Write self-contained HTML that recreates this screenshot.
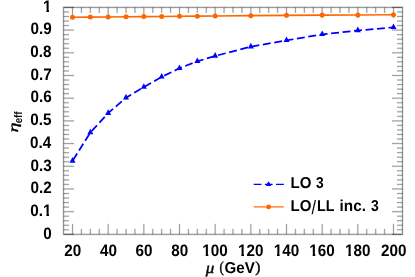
<!DOCTYPE html>
<html><head><meta charset="utf-8"><title>chart</title>
<style>
html,body{margin:0;padding:0;background:#fff;}
svg{display:block;will-change:transform;}
text{text-rendering:geometricPrecision;fill:#000;}
.b{font-family:"Liberation Sans",sans-serif;font-weight:bold;}
.r{font-family:"Liberation Sans",sans-serif;}
.si{font-family:"Liberation Serif",serif;font-style:italic;}
.sbi{font-family:"Liberation Serif",serif;font-style:italic;font-weight:bold;}
.sr{font-family:"Liberation Serif",serif;}
</style>
</head><body>
<svg width="415" height="277" viewBox="0 0 415 277">
<rect width="415" height="277" fill="#fff"/>
<path d="M72.50 234.35 v-10.5 M72.50 7.4 v10.5 M81.42 234.35 v-5.5 M81.42 7.4 v5.5 M90.33 234.35 v-5.5 M90.33 7.4 v5.5 M99.25 234.35 v-5.5 M99.25 7.4 v5.5 M108.17 234.35 v-10.5 M108.17 7.4 v10.5 M117.08 234.35 v-5.5 M117.08 7.4 v5.5 M126.00 234.35 v-5.5 M126.00 7.4 v5.5 M134.92 234.35 v-5.5 M134.92 7.4 v5.5 M143.83 234.35 v-10.5 M143.83 7.4 v10.5 M152.75 234.35 v-5.5 M152.75 7.4 v5.5 M161.67 234.35 v-5.5 M161.67 7.4 v5.5 M170.58 234.35 v-5.5 M170.58 7.4 v5.5 M179.50 234.35 v-10.5 M179.50 7.4 v10.5 M188.42 234.35 v-5.5 M188.42 7.4 v5.5 M197.33 234.35 v-5.5 M197.33 7.4 v5.5 M206.25 234.35 v-5.5 M206.25 7.4 v5.5 M215.17 234.35 v-10.5 M215.17 7.4 v10.5 M224.08 234.35 v-5.5 M224.08 7.4 v5.5 M233.00 234.35 v-5.5 M233.00 7.4 v5.5 M241.92 234.35 v-5.5 M241.92 7.4 v5.5 M250.83 234.35 v-10.5 M250.83 7.4 v10.5 M259.75 234.35 v-5.5 M259.75 7.4 v5.5 M268.67 234.35 v-5.5 M268.67 7.4 v5.5 M277.58 234.35 v-5.5 M277.58 7.4 v5.5 M286.50 234.35 v-10.5 M286.50 7.4 v10.5 M295.42 234.35 v-5.5 M295.42 7.4 v5.5 M304.33 234.35 v-5.5 M304.33 7.4 v5.5 M313.25 234.35 v-5.5 M313.25 7.4 v5.5 M322.17 234.35 v-10.5 M322.17 7.4 v10.5 M331.08 234.35 v-5.5 M331.08 7.4 v5.5 M340.00 234.35 v-5.5 M340.00 7.4 v5.5 M348.92 234.35 v-5.5 M348.92 7.4 v5.5 M357.83 234.35 v-10.5 M357.83 7.4 v10.5 M366.75 234.35 v-5.5 M366.75 7.4 v5.5 M375.67 234.35 v-5.5 M375.67 7.4 v5.5 M384.58 234.35 v-5.5 M384.58 7.4 v5.5 M393.50 234.35 v-10.5 M393.50 7.4 v10.5 M63.55 234.35 h10.5 M402.5 234.35 h-10.5 M63.55 229.81 h5.5 M402.5 229.81 h-5.5 M63.55 225.27 h5.5 M402.5 225.27 h-5.5 M63.55 220.73 h5.5 M402.5 220.73 h-5.5 M63.55 216.19 h5.5 M402.5 216.19 h-5.5 M63.55 211.66 h10.5 M402.5 211.66 h-10.5 M63.55 207.12 h5.5 M402.5 207.12 h-5.5 M63.55 202.58 h5.5 M402.5 202.58 h-5.5 M63.55 198.04 h5.5 M402.5 198.04 h-5.5 M63.55 193.50 h5.5 M402.5 193.50 h-5.5 M63.55 188.96 h10.5 M402.5 188.96 h-10.5 M63.55 184.42 h5.5 M402.5 184.42 h-5.5 M63.55 179.88 h5.5 M402.5 179.88 h-5.5 M63.55 175.34 h5.5 M402.5 175.34 h-5.5 M63.55 170.80 h5.5 M402.5 170.80 h-5.5 M63.55 166.26 h10.5 M402.5 166.26 h-10.5 M63.55 161.73 h5.5 M402.5 161.73 h-5.5 M63.55 157.19 h5.5 M402.5 157.19 h-5.5 M63.55 152.65 h5.5 M402.5 152.65 h-5.5 M63.55 148.11 h5.5 M402.5 148.11 h-5.5 M63.55 143.57 h10.5 M402.5 143.57 h-10.5 M63.55 139.03 h5.5 M402.5 139.03 h-5.5 M63.55 134.49 h5.5 M402.5 134.49 h-5.5 M63.55 129.95 h5.5 M402.5 129.95 h-5.5 M63.55 125.41 h5.5 M402.5 125.41 h-5.5 M63.55 120.88 h10.5 M402.5 120.88 h-10.5 M63.55 116.34 h5.5 M402.5 116.34 h-5.5 M63.55 111.80 h5.5 M402.5 111.80 h-5.5 M63.55 107.26 h5.5 M402.5 107.26 h-5.5 M63.55 102.72 h5.5 M402.5 102.72 h-5.5 M63.55 98.18 h10.5 M402.5 98.18 h-10.5 M63.55 93.64 h5.5 M402.5 93.64 h-5.5 M63.55 89.10 h5.5 M402.5 89.10 h-5.5 M63.55 84.56 h5.5 M402.5 84.56 h-5.5 M63.55 80.02 h5.5 M402.5 80.02 h-5.5 M63.55 75.48 h10.5 M402.5 75.48 h-10.5 M63.55 70.95 h5.5 M402.5 70.95 h-5.5 M63.55 66.41 h5.5 M402.5 66.41 h-5.5 M63.55 61.87 h5.5 M402.5 61.87 h-5.5 M63.55 57.33 h5.5 M402.5 57.33 h-5.5 M63.55 52.79 h10.5 M402.5 52.79 h-10.5 M63.55 48.25 h5.5 M402.5 48.25 h-5.5 M63.55 43.71 h5.5 M402.5 43.71 h-5.5 M63.55 39.17 h5.5 M402.5 39.17 h-5.5 M63.55 34.63 h5.5 M402.5 34.63 h-5.5 M63.55 30.09 h10.5 M402.5 30.09 h-10.5 M63.55 25.56 h5.5 M402.5 25.56 h-5.5 M63.55 21.02 h5.5 M402.5 21.02 h-5.5 M63.55 16.48 h5.5 M402.5 16.48 h-5.5 M63.55 11.94 h5.5 M402.5 11.94 h-5.5 M63.55 7.40 h10.5 M402.5 7.40 h-10.5" stroke="#000" stroke-opacity="0.09" stroke-width="2.0" fill="none"/>
<path d="M63.55 7.4 H402.5 V234.35 H63.55 Z" stroke="#000" stroke-opacity="0.1" stroke-width="2.2" fill="none"/>
<path d="M72.50 234.35 v-10.5 M72.50 7.4 v10.5 M81.42 234.35 v-5.5 M81.42 7.4 v5.5 M90.33 234.35 v-5.5 M90.33 7.4 v5.5 M99.25 234.35 v-5.5 M99.25 7.4 v5.5 M108.17 234.35 v-10.5 M108.17 7.4 v10.5 M117.08 234.35 v-5.5 M117.08 7.4 v5.5 M126.00 234.35 v-5.5 M126.00 7.4 v5.5 M134.92 234.35 v-5.5 M134.92 7.4 v5.5 M143.83 234.35 v-10.5 M143.83 7.4 v10.5 M152.75 234.35 v-5.5 M152.75 7.4 v5.5 M161.67 234.35 v-5.5 M161.67 7.4 v5.5 M170.58 234.35 v-5.5 M170.58 7.4 v5.5 M179.50 234.35 v-10.5 M179.50 7.4 v10.5 M188.42 234.35 v-5.5 M188.42 7.4 v5.5 M197.33 234.35 v-5.5 M197.33 7.4 v5.5 M206.25 234.35 v-5.5 M206.25 7.4 v5.5 M215.17 234.35 v-10.5 M215.17 7.4 v10.5 M224.08 234.35 v-5.5 M224.08 7.4 v5.5 M233.00 234.35 v-5.5 M233.00 7.4 v5.5 M241.92 234.35 v-5.5 M241.92 7.4 v5.5 M250.83 234.35 v-10.5 M250.83 7.4 v10.5 M259.75 234.35 v-5.5 M259.75 7.4 v5.5 M268.67 234.35 v-5.5 M268.67 7.4 v5.5 M277.58 234.35 v-5.5 M277.58 7.4 v5.5 M286.50 234.35 v-10.5 M286.50 7.4 v10.5 M295.42 234.35 v-5.5 M295.42 7.4 v5.5 M304.33 234.35 v-5.5 M304.33 7.4 v5.5 M313.25 234.35 v-5.5 M313.25 7.4 v5.5 M322.17 234.35 v-10.5 M322.17 7.4 v10.5 M331.08 234.35 v-5.5 M331.08 7.4 v5.5 M340.00 234.35 v-5.5 M340.00 7.4 v5.5 M348.92 234.35 v-5.5 M348.92 7.4 v5.5 M357.83 234.35 v-10.5 M357.83 7.4 v10.5 M366.75 234.35 v-5.5 M366.75 7.4 v5.5 M375.67 234.35 v-5.5 M375.67 7.4 v5.5 M384.58 234.35 v-5.5 M384.58 7.4 v5.5 M393.50 234.35 v-10.5 M393.50 7.4 v10.5 M63.55 234.35 h10.5 M402.5 234.35 h-10.5 M63.55 229.81 h5.5 M402.5 229.81 h-5.5 M63.55 225.27 h5.5 M402.5 225.27 h-5.5 M63.55 220.73 h5.5 M402.5 220.73 h-5.5 M63.55 216.19 h5.5 M402.5 216.19 h-5.5 M63.55 211.66 h10.5 M402.5 211.66 h-10.5 M63.55 207.12 h5.5 M402.5 207.12 h-5.5 M63.55 202.58 h5.5 M402.5 202.58 h-5.5 M63.55 198.04 h5.5 M402.5 198.04 h-5.5 M63.55 193.50 h5.5 M402.5 193.50 h-5.5 M63.55 188.96 h10.5 M402.5 188.96 h-10.5 M63.55 184.42 h5.5 M402.5 184.42 h-5.5 M63.55 179.88 h5.5 M402.5 179.88 h-5.5 M63.55 175.34 h5.5 M402.5 175.34 h-5.5 M63.55 170.80 h5.5 M402.5 170.80 h-5.5 M63.55 166.26 h10.5 M402.5 166.26 h-10.5 M63.55 161.73 h5.5 M402.5 161.73 h-5.5 M63.55 157.19 h5.5 M402.5 157.19 h-5.5 M63.55 152.65 h5.5 M402.5 152.65 h-5.5 M63.55 148.11 h5.5 M402.5 148.11 h-5.5 M63.55 143.57 h10.5 M402.5 143.57 h-10.5 M63.55 139.03 h5.5 M402.5 139.03 h-5.5 M63.55 134.49 h5.5 M402.5 134.49 h-5.5 M63.55 129.95 h5.5 M402.5 129.95 h-5.5 M63.55 125.41 h5.5 M402.5 125.41 h-5.5 M63.55 120.88 h10.5 M402.5 120.88 h-10.5 M63.55 116.34 h5.5 M402.5 116.34 h-5.5 M63.55 111.80 h5.5 M402.5 111.80 h-5.5 M63.55 107.26 h5.5 M402.5 107.26 h-5.5 M63.55 102.72 h5.5 M402.5 102.72 h-5.5 M63.55 98.18 h10.5 M402.5 98.18 h-10.5 M63.55 93.64 h5.5 M402.5 93.64 h-5.5 M63.55 89.10 h5.5 M402.5 89.10 h-5.5 M63.55 84.56 h5.5 M402.5 84.56 h-5.5 M63.55 80.02 h5.5 M402.5 80.02 h-5.5 M63.55 75.48 h10.5 M402.5 75.48 h-10.5 M63.55 70.95 h5.5 M402.5 70.95 h-5.5 M63.55 66.41 h5.5 M402.5 66.41 h-5.5 M63.55 61.87 h5.5 M402.5 61.87 h-5.5 M63.55 57.33 h5.5 M402.5 57.33 h-5.5 M63.55 52.79 h10.5 M402.5 52.79 h-10.5 M63.55 48.25 h5.5 M402.5 48.25 h-5.5 M63.55 43.71 h5.5 M402.5 43.71 h-5.5 M63.55 39.17 h5.5 M402.5 39.17 h-5.5 M63.55 34.63 h5.5 M402.5 34.63 h-5.5 M63.55 30.09 h10.5 M402.5 30.09 h-10.5 M63.55 25.56 h5.5 M402.5 25.56 h-5.5 M63.55 21.02 h5.5 M402.5 21.02 h-5.5 M63.55 16.48 h5.5 M402.5 16.48 h-5.5 M63.55 11.94 h5.5 M402.5 11.94 h-5.5 M63.55 7.40 h10.5 M402.5 7.40 h-10.5" stroke="#000" stroke-width="0.33" fill="none"/>
<path d="M63.55 7.4 H402.5 V234.35 H63.55 Z" stroke="#000" stroke-width="0.37" fill="none"/>
<polyline points="72.50,17.30 90.33,17.10 108.17,16.95 126.00,16.80 143.83,16.60 161.67,16.45 179.50,16.30 197.33,16.15 215.17,16.00 250.83,15.65 286.50,15.35 322.17,15.10 357.83,15.00 393.50,14.75" fill="none" stroke="#ff6600" stroke-width="1.65"/>
<circle cx="72.50" cy="17.30" r="2.5" fill="#ff6600"/>
<circle cx="90.33" cy="17.10" r="2.5" fill="#ff6600"/>
<circle cx="108.17" cy="16.95" r="2.5" fill="#ff6600"/>
<circle cx="126.00" cy="16.80" r="2.5" fill="#ff6600"/>
<circle cx="143.83" cy="16.60" r="2.5" fill="#ff6600"/>
<circle cx="161.67" cy="16.45" r="2.5" fill="#ff6600"/>
<circle cx="179.50" cy="16.30" r="2.5" fill="#ff6600"/>
<circle cx="197.33" cy="16.15" r="2.5" fill="#ff6600"/>
<circle cx="215.17" cy="16.00" r="2.5" fill="#ff6600"/>
<circle cx="250.83" cy="15.65" r="2.5" fill="#ff6600"/>
<circle cx="286.50" cy="15.35" r="2.5" fill="#ff6600"/>
<circle cx="322.17" cy="15.10" r="2.5" fill="#ff6600"/>
<circle cx="357.83" cy="15.00" r="2.5" fill="#ff6600"/>
<circle cx="393.50" cy="14.75" r="2.5" fill="#ff6600"/>
<path d="M72.50 161.00 L90.33 132.60 L108.17 113.20 L126.00 97.70 L143.83 87.10 L161.67 76.90 L179.50 68.30 L197.33 61.30 L215.17 56.00 L250.83 46.70 L286.50 40.40 L322.17 34.40 L357.83 30.50 L393.50 27.30" fill="none" stroke="#0000ff" stroke-width="1.75" stroke-dasharray="7.9 3.63" stroke-dashoffset="-0.85"/>
<path d="M69.50 162.70 L75.50 162.70 L72.50 157.10 Z" fill="#0000ff"/>
<path d="M87.33 134.30 L93.33 134.30 L90.33 128.70 Z" fill="#0000ff"/>
<path d="M105.17 114.90 L111.17 114.90 L108.17 109.30 Z" fill="#0000ff"/>
<path d="M123.00 99.40 L129.00 99.40 L126.00 93.80 Z" fill="#0000ff"/>
<path d="M140.83 88.80 L146.83 88.80 L143.83 83.20 Z" fill="#0000ff"/>
<path d="M158.67 78.60 L164.67 78.60 L161.67 73.00 Z" fill="#0000ff"/>
<path d="M176.50 70.00 L182.50 70.00 L179.50 64.40 Z" fill="#0000ff"/>
<path d="M194.33 63.00 L200.33 63.00 L197.33 57.40 Z" fill="#0000ff"/>
<path d="M212.17 57.70 L218.17 57.70 L215.17 52.10 Z" fill="#0000ff"/>
<path d="M247.83 48.40 L253.83 48.40 L250.83 42.80 Z" fill="#0000ff"/>
<path d="M283.50 42.10 L289.50 42.10 L286.50 36.50 Z" fill="#0000ff"/>
<path d="M319.17 36.10 L325.17 36.10 L322.17 30.50 Z" fill="#0000ff"/>
<path d="M354.83 32.20 L360.83 32.20 L357.83 26.60 Z" fill="#0000ff"/>
<path d="M390.50 29.00 L396.50 29.00 L393.50 23.40 Z" fill="#0000ff"/>
<path d="M253.7 184.4 H283.8" stroke="#0000ff" stroke-width="1.15" stroke-dasharray="7.8 3.35" fill="none"/>
<path d="M265.70 185.90 L271.50 185.90 L268.60 181.30 Z" fill="#0000ff"/>
<path d="M253.7 206.9 H283.8" stroke="#ff6600" stroke-width="1.2" fill="none"/>
<circle cx="268.6" cy="206.9" r="2.4" fill="#ff6600"/>
<text class="b" font-size="15.8" transform="translate(290.42 187.90) scale(0.9549 1.0)">LO</text>
<text class="b" font-size="15.8" transform="translate(315.92 187.90) scale(0.8734 1.0)">3</text>
<text class="b" font-size="15.8" transform="translate(290.42 210.90) scale(0.9549 1.0)">LO</text>
<text class="b" font-size="15.8" transform="translate(316.97 210.90) scale(0.9011 1.0)">LL</text>
<text class="b" font-size="15.8" transform="translate(339.61 210.90) scale(0.9674 1.0)">inc.</text>
<text class="b" font-size="15.8" transform="translate(371.02 210.90) scale(0.8861 1.0)">3</text>
<text class="r" font-size="19.5" transform="translate(311.60 213.50) scale(0.8242 1.0)">/</text>
<text class="b" font-size="15.8" transform="translate(43.22 238.65) scale(0.9650 1.05)">0</text>
<text class="b" font-size="15.8" transform="translate(30.35 215.96) scale(0.9650 1.05)">0.1</text>
<text class="b" font-size="15.8" transform="translate(30.51 193.26) scale(0.9650 1.05)">0.2</text>
<text class="b" font-size="15.8" transform="translate(30.51 170.56) scale(0.9650 1.05)">0.3</text>
<text class="b" font-size="15.8" transform="translate(29.97 147.87) scale(0.9650 1.05)">0.4</text>
<text class="b" font-size="15.8" transform="translate(30.35 125.17) scale(0.9650 1.05)">0.5</text>
<text class="b" font-size="15.8" transform="translate(30.51 102.48) scale(0.9650 1.05)">0.6</text>
<text class="b" font-size="15.8" transform="translate(30.58 79.79) scale(0.9650 1.05)">0.7</text>
<text class="b" font-size="15.8" transform="translate(30.35 57.09) scale(0.9650 1.05)">0.8</text>
<text class="b" font-size="15.8" transform="translate(30.51 34.39) scale(0.9650 1.05)">0.9</text>
<text class="b" font-size="15.8" transform="translate(43.07 11.70) scale(0.9650 1.05)">1</text>
<text class="b" font-size="15.8" transform="translate(64.17 256.45) scale(0.9650 1.05)">20</text>
<text class="b" font-size="15.8" transform="translate(99.95 256.45) scale(0.9650 1.05)">40</text>
<text class="b" font-size="15.8" transform="translate(135.46 256.45) scale(0.9650 1.05)">60</text>
<text class="b" font-size="15.8" transform="translate(171.17 256.45) scale(0.9650 1.05)">80</text>
<text class="b" font-size="15.8" transform="translate(202.37 256.45) scale(0.9650 1.05)">100</text>
<text class="b" font-size="15.8" transform="translate(238.03 256.45) scale(0.9650 1.05)">120</text>
<text class="b" font-size="15.8" transform="translate(273.70 256.45) scale(0.9650 1.05)">140</text>
<text class="b" font-size="15.8" transform="translate(309.37 256.45) scale(0.9650 1.05)">160</text>
<text class="b" font-size="15.8" transform="translate(345.03 256.45) scale(0.9650 1.05)">180</text>
<text class="b" font-size="15.8" transform="translate(380.93 256.45) scale(0.9650 1.05)">200</text>
<text class="si" stroke="#000" stroke-width="0.4" font-size="16.0" transform="translate(205.69 272.80) scale(1.0658 1.0)">μ</text>
<text class="sr" stroke="#000" stroke-width="0.4" font-size="15.2" transform="translate(219.49 272.30) scale(0.8441 1.0)">(</text>
<text class="b" font-size="15.8" transform="translate(224.50 272.80) scale(0.9563 1.0)">GeV</text>
<text class="sr" stroke="#000" stroke-width="0.4" font-size="15.2" transform="translate(255.14 272.30) scale(1.0121 1.0)">)</text>
<rect x="42.77" y="213.02" width="3.62" height="3.73" fill="#fff"/>
<rect x="48.97" y="213.02" width="3.03" height="3.73" fill="#fff"/>
<rect x="42.76" y="8.77" width="3.62" height="3.73" fill="#fff"/>
<rect x="48.96" y="8.77" width="3.03" height="3.73" fill="#fff"/>
<rect x="202.06" y="253.52" width="3.62" height="3.73" fill="#fff"/>
<rect x="208.26" y="253.52" width="3.03" height="3.73" fill="#fff"/>
<rect x="237.73" y="253.52" width="3.62" height="3.73" fill="#fff"/>
<rect x="243.93" y="253.52" width="3.03" height="3.73" fill="#fff"/>
<rect x="273.39" y="253.52" width="3.62" height="3.73" fill="#fff"/>
<rect x="279.59" y="253.52" width="3.03" height="3.73" fill="#fff"/>
<rect x="309.06" y="253.52" width="3.62" height="3.73" fill="#fff"/>
<rect x="315.26" y="253.52" width="3.03" height="3.73" fill="#fff"/>
<rect x="344.73" y="253.52" width="3.62" height="3.73" fill="#fff"/>
<rect x="350.93" y="253.52" width="3.03" height="3.73" fill="#fff"/>
<g transform="translate(0 131.9) rotate(-90)"><text class="si" stroke="#000" stroke-width="0.4" font-size="16.0" transform="translate(-0.71 18.09) scale(1.2649 0.8668)">η</text><text class="b" font-size="11.0" transform="translate(8.56 21.5) scale(0.8868 1)">eff</text></g>
</svg>
</body></html>
